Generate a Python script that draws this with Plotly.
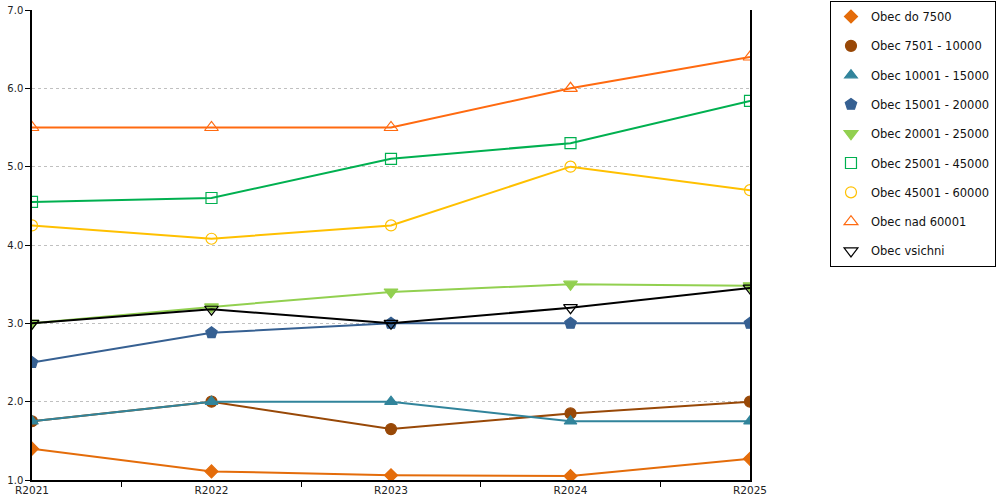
import plotly.graph_objects as go

years = ["R2021", "R2022", "R2023", "R2024", "R2025"]

names = [
    "Obec do 7500",
    "Obec 7501 - 10000",
    "Obec 10001 - 15000",
    "Obec 15001 - 20000",
    "Obec 20001 - 25000",
    "Obec 25001 - 45000",
    "Obec 45001 - 60000",
    "Obec nad 60001",
    "Obec vsichni",
]

do_7500 = [1.40, 1.11, 1.06, 1.05, 1.27]
v7501_10000 = [1.75, 2.00, 1.65, 1.85, 2.00]
v10001_15000 = [1.75, 2.00, 2.00, 1.75, 1.75]
v15001_20000 = [2.50, 2.88, 3.00, 3.00, 3.00]
v20001_25000 = [3.00, 3.21, 3.40, 3.50, 3.48]
v25001_45000 = [4.55, 4.60, 5.10, 5.30, 5.84]
v45001_60000 = [4.25, 4.08, 4.25, 5.00, 4.70]
nad_60001 = [5.50, 5.50, 5.50, 6.00, 6.40]
vsichni = [3.00, 3.18, 3.00, 3.20, 3.45]

series = [do_7500, v7501_10000, v10001_15000, v15001_20000, v20001_25000,
          v25001_45000, v45001_60000, nad_60001, vsichni]

colors = ["#E46C0A", "#984807", "#31849B", "#366092", "#92D050",
          "#00B050", "#FFC000", "#FF6A10", "#000000"]
symbols = ["diamond", "circle", "triangle-up", "pentagon", "triangle-down",
           "square-open", "circle-open", "triangle-up-open", "triangle-down-open"]
sizes = [10, 11, 11, 12, 12, 11, 11, 12, 12]

fig = go.Figure()
# actual data lines
for nm, vals, c, s, sz in zip(names, series, colors, symbols, sizes):
    fig.add_trace(go.Scatter(
        x=years, y=vals, name=nm, mode="lines+markers",
        line=dict(color=c, width=2),
        marker=dict(symbol=s, size=sz, color=c, line=dict(color=c, width=1.2)),
        showlegend=False,
    ))
# legend entries (marker only, as in the reference legend)
for nm, c, s, sz in zip(names, colors, symbols, sizes):
    fig.add_trace(go.Scatter(
        x=[None], y=[None], name=nm, mode="markers",
        marker=dict(symbol=s, size=sz, color=c, line=dict(color=c, width=1.2)),
        legendgroup=nm, showlegend=True,
    ))

font_family = "DejaVu Sans, Verdana, sans-serif"

fig.update_layout(
    width=1000, height=500,
    margin=dict(l=32, r=250, t=10, b=20, autoexpand=False),
    paper_bgcolor="white", plot_bgcolor="white",
    font=dict(family=font_family, size=10, color="#222222"),
    showlegend=True,
    legend=dict(
        x=1.1114, y=1.0191, xanchor="left", yanchor="top",
        bordercolor="#000000", borderwidth=1,
        font=dict(family=font_family, size=11.5, color="#111111"),
        tracegroupgap=10.3,
        itemwidth=30,
        maxheight=500,
    ),
    xaxis=dict(
        type="category", range=[0, 4], automargin=False,
        showline=True, linecolor="black", linewidth=1.5,
        ticks="outside", ticklen=5, tickcolor="black",
        tickson="boundaries", ticklabeloverflow="allow",
        showgrid=False, zeroline=False,
        tickfont=dict(family=font_family, size=10.5, color="#222222"),
    ),
    yaxis=dict(
        range=[1.0, 7.0], dtick=1.0, tick0=1.0, tickformat=".1f", automargin=False,
        showline=True, linecolor="black", linewidth=1.5, mirror=True,
        ticks="outside", ticklen=5, tickcolor="black",
        ticklabeloverflow="allow",
        showgrid=True, gridcolor="#c0c0c0", griddash="dot", gridwidth=1,
        zeroline=False,
        tickfont=dict(family=font_family, size=10, color="#222222"),
    ),
)

fig.write_html("out.html", config={"displayModeBar": False},
               post_script="document.body.style.margin='0';")
